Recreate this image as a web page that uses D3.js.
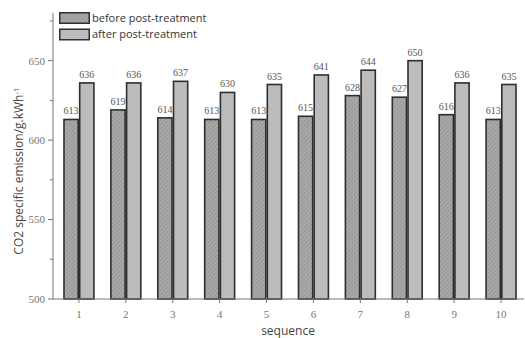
<!DOCTYPE html>
<html>
<head>
<meta charset="utf-8">
<script src="https://cdn.jsdelivr.net/npm/d3@7"></script>
<style>
  html, body { margin: 0; padding: 0; background: #fff; }
  svg { display: block; }
</style>
</head>
<body>
<svg id="chart" width="525" height="338"></svg>
<script>
// CO2 specific emission per test sequence, before and after post-treatment
const sequences = ["1", "2", "3", "4", "5", "6", "7", "8", "9", "10"];
const beforeValues = [613, 619, 614, 613, 613, 615, 628, 627, 616, 613];
const afterValues = [636, 636, 637, 630, 635, 641, 644, 650, 636, 635];
const seriesNames = ["before post-treatment", "after post-treatment"];
const yTicks = [500, 550, 600, 650];
const yMinorTicks = [525, 575, 625, 675];

const svg = d3.select("#chart");
const margin = { left: 53, right: 1, top: 13, bottom: 39 };
const W = 525, H = 338;

const x = d3.scaleBand()
  .domain(sequences)
  .range([55.5, 524.5])
  .paddingInner(0.33)
  .paddingOuter(0.165);

const y = d3.scaleLinear()
  .domain([500, 680])
  .range([H - margin.bottom, margin.top]);

// hatch pattern for the "before" bars
const defs = svg.append("defs");
const pat = defs.append("pattern")
  .attr("id", "hatch")
  .attr("patternUnits", "userSpaceOnUse")
  .attr("width", 3).attr("height", 3)
  .attr("patternTransform", "rotate(45)");
pat.append("rect").attr("width", 3).attr("height", 3).attr("fill", "#a9a9a9");
pat.append("line").attr("x1", 0).attr("y1", 0).attr("x2", 0).attr("y2", 3)
  .attr("stroke", "#8a8a8a").attr("stroke-width", 1.2);

const fills = ["url(#hatch)", "#bcbcbc"];
const half = x.bandwidth() / 2;

const rows = sequences.map((s, i) => ({ s, vals: [beforeValues[i], afterValues[i]] }));

// bars
const groups = svg.append("g").selectAll("g")
  .data(rows).join("g")
  .attr("transform", d => `translate(${x(d.s)},0)`);

groups.selectAll("rect")
  .data(d => d.vals.map((v, k) => ({ v, k })))
  .join("rect")
  .attr("x", d => d.k * half + 0.75)
  .attr("y", d => y(d.v))
  .attr("width", half - 1.5)
  .attr("height", d => y(500) - y(d.v))
  .attr("fill", d => fills[d.k])
  .attr("stroke", "#2e2e2e")
  .attr("stroke-width", 1.6);

// value labels
groups.selectAll("text")
  .data(d => d.vals.map((v, k) => ({ v, k })))
  .join("text")
  .attr("x", d => d.k * half + half / 2)
  .attr("y", d => y(d.v) - 5)
  .attr("text-anchor", "middle")
  .attr("font-family", "'Liberation Serif', 'DejaVu Serif', serif")
  .attr("font-size", 10)
  .attr("fill", "#555")
  .text(d => d.v);

// y axis
const yAxis = svg.append("g")
  .attr("transform", `translate(${margin.left},0)`);
yAxis.append("line")
  .attr("x1", 0).attr("x2", 0)
  .attr("y1", y(680)).attr("y2", y(500))
  .attr("stroke", "#777").attr("stroke-width", 1);
yAxis.selectAll(".maj").data(yTicks).join("line")
  .attr("x1", -5).attr("x2", 0)
  .attr("y1", d => y(d)).attr("y2", d => y(d))
  .attr("stroke", "#777");
yAxis.selectAll(".min").data(yMinorTicks).join("line")
  .attr("x1", -3).attr("x2", 0)
  .attr("y1", d => y(d)).attr("y2", d => y(d))
  .attr("stroke", "#777");
yAxis.selectAll("text").data(yTicks).join("text")
  .attr("x", -8)
  .attr("y", d => y(d))
  .attr("dy", "0.35em")
  .attr("text-anchor", "end")
  .attr("font-family", "'Liberation Serif', 'DejaVu Serif', serif")
  .attr("font-size", 11)
  .attr("fill", "#777")
  .text(d => d);

// x axis
const xAxis = svg.append("g")
  .attr("transform", `translate(0,${y(500)})`);
xAxis.append("line")
  .attr("x1", margin.left).attr("x2", W - margin.right)
  .attr("y1", 0).attr("y2", 0)
  .attr("stroke", "#777");
xAxis.selectAll("line.t").data(sequences).join("line")
  .attr("class", "t")
  .attr("x1", d => x(d) + half).attr("x2", d => x(d) + half)
  .attr("y1", 0).attr("y2", 4)
  .attr("stroke", "#777");
xAxis.selectAll("text").data(sequences).join("text")
  .attr("x", d => x(d) + half)
  .attr("y", 19)
  .attr("text-anchor", "middle")
  .attr("font-family", "'Liberation Serif', 'DejaVu Serif', serif")
  .attr("font-size", 11)
  .attr("fill", "#777")
  .text(d => d);

// axis titles
svg.append("text")
  .attr("x", 288).attr("y", 335)
  .attr("text-anchor", "middle")
  .attr("font-family", "'Open Sans', 'Noto Sans', sans-serif")
  .attr("font-size", 12)
  .attr("fill", "#444")
  .text("sequence");

const yTitle = svg.append("text")
  .attr("transform", "translate(23,171) rotate(-90)")
  .attr("text-anchor", "middle")
  .attr("font-family", "'Open Sans', 'Noto Sans', sans-serif")
  .attr("font-size", 12)
  .attr("fill", "#4a463c");
yTitle.append("tspan").text("CO2 specific emission/g.kWh");
yTitle.append("tspan").attr("dy", "-0.45em").attr("font-size", 8).text("-1");

// legend
const legend = svg.append("g").attr("transform", "translate(59,12)");
const items = legend.selectAll("g").data(seriesNames).join("g")
  .attr("transform", (d, i) => `translate(0,${i * 16.5})`);
items.append("rect")
  .attr("x", 0.75).attr("y", 0.75)
  .attr("width", 29.5).attr("height", 10.5)
  .attr("fill", (d, i) => fills[i])
  .attr("stroke", "#2e2e2e")
  .attr("stroke-width", 1.5);
items.append("text")
  .attr("x", 33).attr("y", 6)
  .attr("dy", "0.35em")
  .attr("font-family", "'Open Sans', 'Noto Sans', sans-serif")
  .attr("font-size", 11)
  .attr("fill", "#333")
  .text(d => d);
</script>
</body>
</html>
